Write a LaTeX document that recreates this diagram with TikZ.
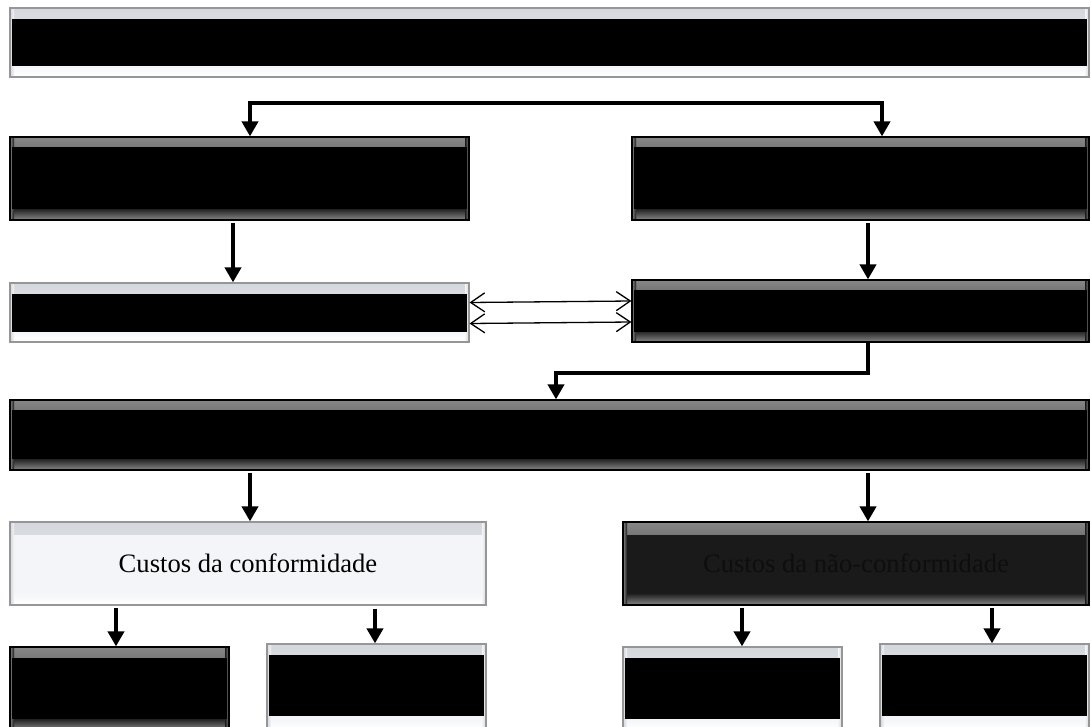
\documentclass[tikz,border=0pt]{standalone}
\usepackage{fontspec}
\setmainfont{Liberation Serif}
\usetikzlibrary{arrows.meta,calc}
\definecolor{lightfill}{RGB}{243,245,248}
\definecolor{lightedge}{RGB}{150,150,150}
\definecolor{bevelgray}{RGB}{212,215,220}
\definecolor{darkfill}{RGB}{26,26,26}
\definecolor{darkbevel}{RGB}{135,135,135}
\definecolor{darktext}{RGB}{14,14,14}
\tikzset{
  box/.style={rectangle, inner sep=0pt, line width=1.2pt},
  lightbox/.style={box, draw=lightedge, fill=lightfill, path picture={
    \shade[top color=bevelgray, bottom color=lightfill]
      (path picture bounding box.north west) rectangle ([yshift=-12pt]path picture bounding box.north east);
    \shade[top color=lightfill, bottom color=white]
      ([yshift=12pt]path picture bounding box.south west) rectangle (path picture bounding box.south east);
    \shade[left color=bevelgray, right color=lightfill]
      (path picture bounding box.north west) rectangle ([xshift=4pt]path picture bounding box.south west);
    \shade[left color=lightfill, right color=bevelgray]
      ([xshift=-4pt]path picture bounding box.north east) rectangle (path picture bounding box.south east);
  }},
  darkbox/.style={box, draw=black, fill=darkfill, path picture={
    \shade[top color=darkbevel, bottom color=darkfill]
      (path picture bounding box.north west) rectangle ([yshift=-12pt]path picture bounding box.north east);
    \shade[top color=darkfill, bottom color=darkbevel]
      ([yshift=12pt]path picture bounding box.south west) rectangle (path picture bounding box.south east);
    \shade[left color=darkbevel, right color=darkfill]
      (path picture bounding box.north west) rectangle ([xshift=4pt]path picture bounding box.south west);
    \shade[left color=darkfill, right color=darkbevel]
      ([xshift=-4pt]path picture bounding box.north east) rectangle (path picture bounding box.south east);
  }},
  band/.style={fill=black},
  arr/.style={line width=4pt, line join=miter, -{Triangle[length=15pt,width=16pt]}},
  arrboth/.style={line width=4pt, line join=miter, {Triangle[length=15pt,width=16pt]}-{Triangle[length=15pt,width=16pt]}},
  darr/.style={line width=1.3pt, {Straight Barb[length=14pt,width=19pt]}-{Straight Barb[length=14pt,width=19pt]}},
  label/.style={font=\fontsize{26.6}{30}\selectfont},
}
\begin{document}
\begin{tikzpicture}[x=1pt,y=-1pt]
\useasboundingbox (0,0) rectangle (1091,727);
\clip (0,0) rectangle (1091,727);
\fill[white] (0,0) rectangle (1091,727);

% boxes
\node[lightbox, minimum width=1079pt, minimum height=69pt] (top) at (549.5,42.5) {};
\node[darkbox, minimum width=459pt, minimum height=83pt] (box2) at (239.5,178.5) {};
\node[darkbox, minimum width=457pt, minimum height=83pt] (box3) at (860.5,178.5) {};
\node[lightbox, minimum width=459pt, minimum height=59pt] (box4) at (239.5,312.5) {};
\node[darkbox, minimum width=457pt, minimum height=62pt] (box5) at (860.5,311) {};
\node[darkbox, minimum width=1079pt, minimum height=70pt] (box6) at (549.5,435) {};
\node[lightbox, minimum width=476pt, minimum height=83pt, label] (box7) at (248,563.5) {Custos da conformidade};
\node[darkbox, minimum width=466pt, minimum height=83pt, label, text=darktext] (box8) at (856,563.5) {Custos da não-conformidade};
\node[darkbox, minimum width=219pt, minimum height=83pt] (b1) at (119.5,688.5) {};
\node[lightbox, minimum width=219pt, minimum height=86pt] (b2) at (376.5,687) {};
\node[lightbox, minimum width=219pt, minimum height=83pt] (b3) at (732.5,688.5) {};
\node[lightbox, minimum width=209pt, minimum height=86pt] (b4) at (984.5,687) {};

% redaction bands
\fill[band] ([xshift=3pt,yshift=-12pt]top.north west) rectangle ([xshift=-3pt,yshift=12pt]top.south east);
\fill[band] ([xshift=3pt,yshift=-11pt]box2.north west) rectangle ([xshift=-3pt,yshift=12pt]box2.south east);
\fill[band] ([xshift=3pt,yshift=-11pt]box3.north west) rectangle ([xshift=-3pt,yshift=12pt]box3.south east);
\fill[band] ([xshift=3pt,yshift=-12pt]box4.north west) rectangle ([xshift=-3pt,yshift=11pt]box4.south east);
\fill[band] ([xshift=3pt,yshift=-11pt]box5.north west) rectangle ([xshift=-3pt,yshift=11pt]box5.south east);
\fill[band] ([xshift=3pt,yshift=-11pt]box6.north west) rectangle ([xshift=-3pt,yshift=12pt]box6.south east);
\fill[band] ([xshift=3pt,yshift=-12pt]b1.north west) rectangle ([xshift=-3pt,yshift=12pt]b1.south east);
\fill[band] ([xshift=3pt,yshift=-12pt]b2.north west) rectangle ([xshift=-3pt,yshift=15pt]b2.south east);
\fill[band] ([xshift=3pt,yshift=-12pt]b3.north west) rectangle ([xshift=-3pt,yshift=12pt]b3.south east);
\fill[band] ([xshift=3pt,yshift=-12pt]b4.north west) rectangle ([xshift=-3pt,yshift=15pt]b4.south east);

% helper x positions
\coordinate (j1) at (250,103);
\coordinate (j2) at (882,103);
\coordinate (x233) at (233,0);
\coordinate (x868) at (868,0);
\coordinate (x556) at (556,0);
\coordinate (x250) at (250,0);
\coordinate (x116) at (116,0);
\coordinate (x375) at (375,0);
\coordinate (x742) at (742,0);
\coordinate (x992) at (992,0);

% connectors
\draw[arrboth] (box2.north -| j1) -- (j1) -- (j2) -- (box3.north -| j2);
\draw[arr] ([yshift=-2pt]box2.south -| x233) -- (box4.north -| x233);
\draw[arr] ([yshift=-2pt]box3.south -| x868) -- (box5.north -| x868);
\draw[darr] ([yshift=10pt]box4.east) -- ([yshift=10pt]box5.west);
\draw[darr] ([yshift=-11pt]box4.east) -- ([yshift=-11pt]box5.west);
\draw[arr] (box5.south -| x868) -- ++(0,30) -| (box6.north -| x556);
\draw[arr] ([yshift=-2pt]box6.south -| x250) -- (box7.north -| x250);
\draw[arr] ([yshift=-2pt]box6.south -| x868) -- (box8.north -| x868);
\draw[arr] ([yshift=-2pt]box7.south -| x116) -- (b1.north -| x116);
\draw[arr] ([yshift=-3pt]box7.south -| x375) -- (b2.north -| x375);
\draw[arr] ([yshift=-2pt]box8.south -| x742) -- (b3.north -| x742);
\draw[arr] ([yshift=-2pt]box8.south -| x992) -- (b4.north -| x992);
\end{tikzpicture}
\end{document}
